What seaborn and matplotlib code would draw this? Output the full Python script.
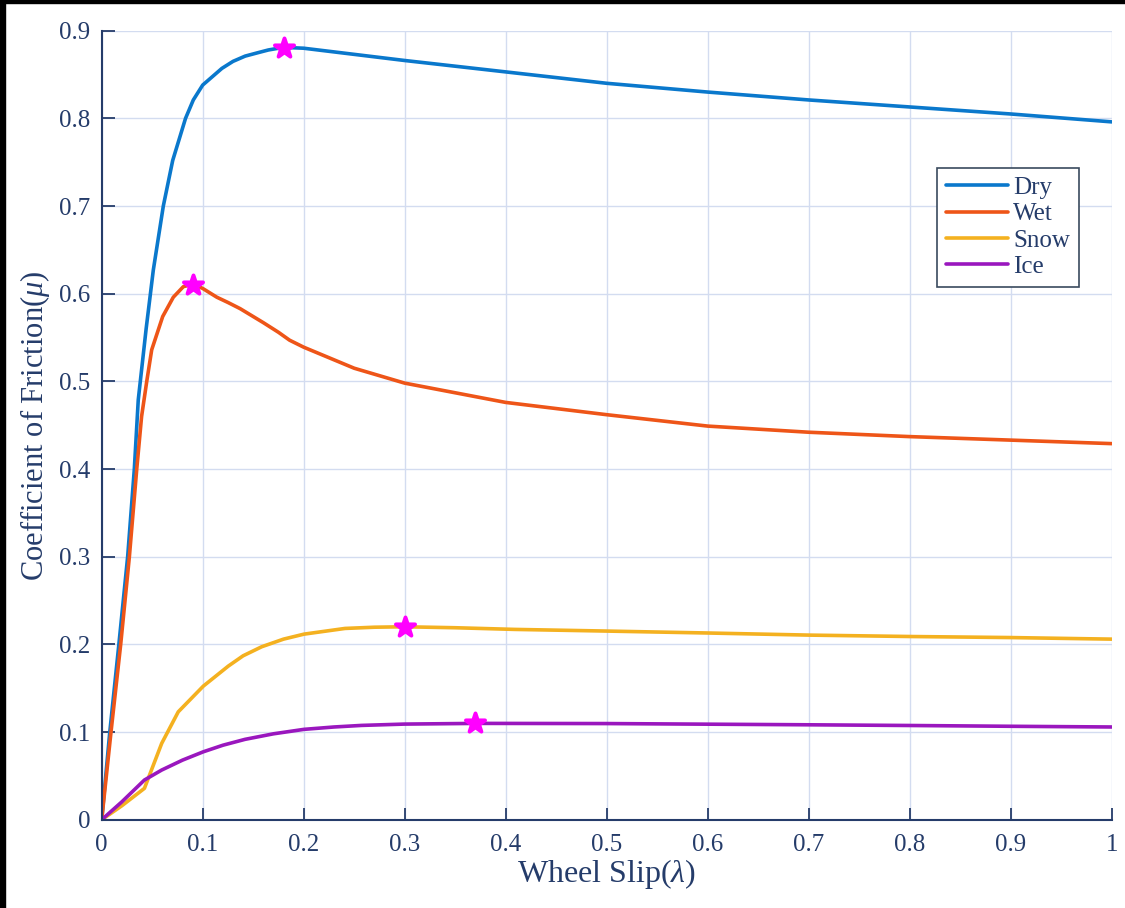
import matplotlib
matplotlib.use("Agg")
import matplotlib.pyplot as plt
import seaborn as sns
import pandas as pd
from matplotlib.patches import Rectangle
from matplotlib.ticker import FuncFormatter

# values
dry_slip = [0, 0.008, 0.017, 0.0257, 0.0323, 0.0362, 0.044, 0.0511, 0.061, 0.0703,
            0.083, 0.0907, 0.1, 0.119, 0.13, 0.142, 0.155, 0.165, 0.18, 0.2, 0.25,
            0.3, 0.4, 0.5, 0.6, 0.7, 0.8, 0.9, 1.0]
dry_mu = [0, 0.1, 0.2, 0.3, 0.4, 0.479, 0.56, 0.627, 0.7, 0.752,
          0.8, 0.821, 0.838, 0.857, 0.865, 0.871, 0.875, 0.878, 0.881, 0.880, 0.873,
          0.866, 0.853, 0.840, 0.830, 0.821, 0.813, 0.805, 0.796]

wet_slip = [0, 0.0092, 0.0188, 0.0274, 0.0347, 0.0395, 0.0446, 0.0495, 0.0604, 0.0709,
            0.0808, 0.0907, 0.1, 0.114, 0.125, 0.137, 0.16, 0.175, 0.186, 0.2, 0.25,
            0.3, 0.4, 0.5, 0.6, 0.7, 0.8, 0.9, 1.0]
wet_mu = [0, 0.1, 0.2, 0.3, 0.4, 0.46, 0.5, 0.536, 0.574, 0.596,
          0.608, 0.611, 0.606, 0.596, 0.59, 0.583, 0.567, 0.556, 0.547, 0.539, 0.515,
          0.498, 0.476, 0.462, 0.449, 0.442, 0.437, 0.433, 0.429]

snow_slip = [0, 0.02, 0.0423, 0.0594, 0.0758, 0.1006, 0.1254, 0.14, 0.1584, 0.18,
             0.2003, 0.2409, 0.27, 0.2996, 0.35, 0.409, 0.5, 0.6, 0.7, 0.8, 0.9, 1.0]
snow_mu = [0, 0.016, 0.0358, 0.0871, 0.1231, 0.1524, 0.1753, 0.187, 0.1973, 0.206,
           0.2117, 0.2182, 0.2196, 0.2201, 0.219, 0.2171, 0.2152, 0.213, 0.2106, 0.209,
           0.2078, 0.206]

ice_slip = [0, 0.02, 0.0423, 0.0594, 0.08, 0.1006, 0.12, 0.1419, 0.17, 0.2003, 0.23,
            0.2574, 0.2996, 0.3713, 0.5, 0.6, 0.7, 0.8, 0.9, 1.0]
ice_mu = [0, 0.0205, 0.0453, 0.0567, 0.068, 0.0775, 0.085, 0.0917, 0.098, 0.1031, 0.1058,
          0.1076, 0.1091, 0.1099, 0.1097, 0.109, 0.1083, 0.1075, 0.1066, 0.1058]

surfaces = ["Dry", "Wet", "Snow", "Ice"]
colors = ["#0A78CC", "#EE5518", "#F4B120", "#9A17BE"]
peak_slip = [0.18, 0.09, 0.30, 0.37]
peak_mu = [0.88, 0.61, 0.22, 0.11]

frames = []
for name, s, m in zip(surfaces, [dry_slip, wet_slip, snow_slip, ice_slip],
                      [dry_mu, wet_mu, snow_mu, ice_mu]):
    frames.append(pd.DataFrame({"slip": s, "mu": m, "surface": name}))
df = pd.concat(frames, ignore_index=True)

sns.set_style("ticks")
plt.rcParams["font.family"] = ["Liberation Serif", "DejaVu Serif"]
plt.rcParams["mathtext.fontset"] = "custom"
plt.rcParams["mathtext.rm"] = "Liberation Serif"
plt.rcParams["mathtext.it"] = "Liberation Serif:italic"

navy = "#253C6A"
fig = plt.figure(figsize=(11.25, 9.08), dpi=100)
ax = fig.add_axes([0.0904, 0.0972, 0.8978, 0.869])

sns.lineplot(data=df, x="slip", y="mu", hue="surface", hue_order=surfaces,
             palette=colors, linewidth=2.6, sort=False, estimator=None, ax=ax)
sns.scatterplot(x=peak_slip, y=peak_mu, color="#FF00FF", marker="*", s=210,
                linewidth=2.8, edgecolor="#FF00FF", zorder=5, legend=False, ax=ax)

ax.set_xlim(0, 1)
ax.set_ylim(0, 0.9)
ax.set_xticks([i / 10 for i in range(11)])
ax.set_yticks([i / 10 for i in range(10)])
ax.xaxis.set_major_formatter(FuncFormatter(lambda v, p: f"{v:g}"))
ax.yaxis.set_major_formatter(FuncFormatter(lambda v, p: f"{v:g}"))
ax.grid(True, color="#D3DCF0", linewidth=1.0)
ax.set_axisbelow(True)
for side in ["top", "right"]:
    ax.spines[side].set_visible(False)
for side in ["left", "bottom"]:
    ax.spines[side].set_color(navy)
    ax.spines[side].set_linewidth(1.5)
ax.tick_params(direction="in", length=9, width=1.3, color=navy,
               labelcolor=navy, labelsize=18)
ax.tick_params(axis="x", pad=10)
ax.tick_params(axis="y", pad=8)

ax.set_xlabel(r"Wheel Slip($\lambda$)", fontsize=23, color=navy, labelpad=1)
ax.set_ylabel(r"Coefficient of Friction($\mu$)", fontsize=22, color=navy, labelpad=5)

leg = ax.legend(loc="upper left", bbox_to_anchor=(0.827, 0.826), fontsize=18,
                frameon=True, fancybox=False, edgecolor="#3A4A5E", framealpha=1,
                handlelength=2.5, handletextpad=0.2, borderpad=0.35,
                labelspacing=0.15, borderaxespad=0)
leg.get_frame().set_linewidth(1.2)
for t in leg.get_texts():
    t.set_color(navy)

# black strips at the picture edges
fig.patches.append(Rectangle((0, 0), 5 / 1125, 1, transform=fig.transFigure,
                             color="black", zorder=10))
fig.patches.append(Rectangle((0, 1 - 3 / 908), 1, 3 / 908, transform=fig.transFigure,
                             color="black", zorder=10))

fig.savefig("out.png", dpi=100)
